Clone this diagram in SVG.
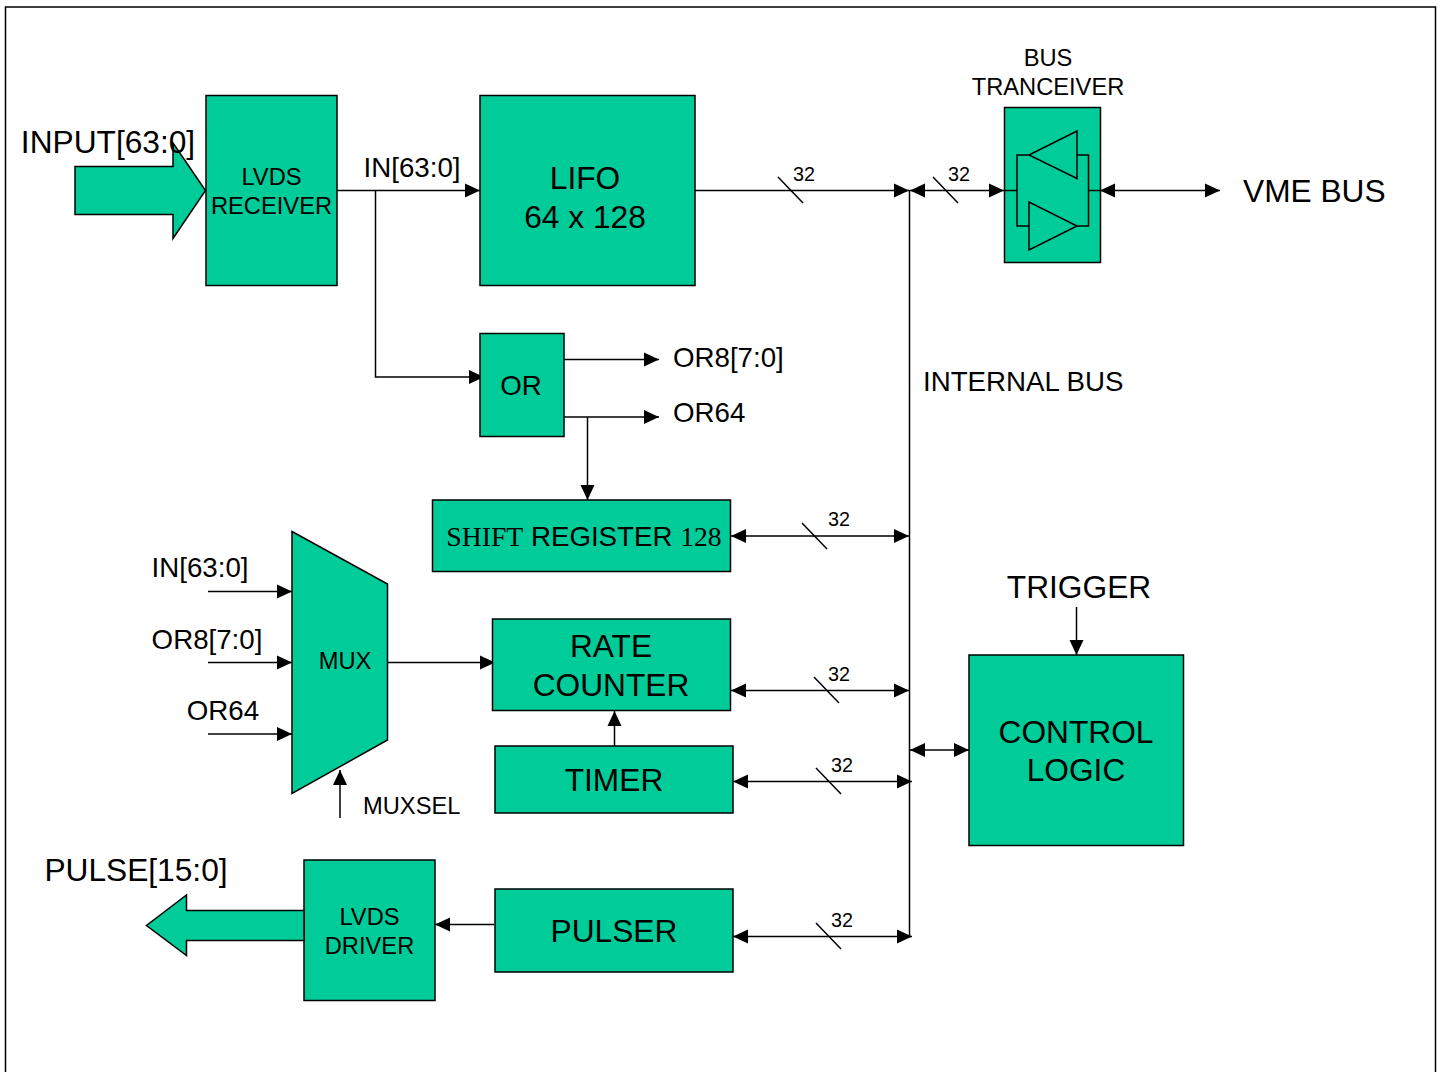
<svg xmlns="http://www.w3.org/2000/svg" width="1444" height="1072" viewBox="0 0 1444 1072">
<style>
text{font-family:"Liberation Sans",Arial,sans-serif;fill:#000;text-anchor:middle}
.b{fill:#00cc99;stroke:#000;stroke-width:1.5}
.c{fill:none;stroke:#000;stroke-width:1.5}
.a{marker-end:url(#e)}
.d{marker-start:url(#s);marker-end:url(#e)}
.l{text-anchor:start}
.s32{font-size:31.7px}.s27{font-size:27.7px}.s24{font-size:23.7px}.s20{font-size:19.8px}
.t{font-family:"Liberation Serif","Times New Roman",serif}
</style>
<defs>
<marker id="e" markerUnits="userSpaceOnUse" markerWidth="16" markerHeight="16" refX="15" refY="8" orient="auto"><path d="M0 1L15 8L0 15Z"/></marker>
<marker id="s" markerUnits="userSpaceOnUse" markerWidth="16" markerHeight="16" refX="1" refY="8" orient="auto"><path d="M16 1L1 8L16 15Z"/></marker>
</defs>
<rect width="1444" height="1072" fill="#fff"/>
<path d="M5.500 1072V7H1435.500V1072" class="c"/>
<g id="connectors">
<path class="c a" d="M337 190.500H480"/>
<path class="c a" d="M375.500 190.500V377H484"/>
<path class="c a" d="M695 190.500H909"/>
<path class="c d" d="M910 190.500H1004"/>
<path class="c d" d="M1100 190.500H1220"/>
<path class="c" d="M909.500 190V937"/>
<path class="c a" d="M564 359.500H659"/>
<path class="c a" d="M564 417H659"/>
<path class="c a" d="M587.500 417V500"/>
<path class="c d" d="M731 536H909"/>
<path class="c d" d="M731 690.500H909"/>
<path class="c d" d="M733 781.500H912"/>
<path class="c d" d="M733 936.500H912"/>
<path class="c d" d="M910 750H969"/>
<path class="c a" d="M1076.500 607V655"/>
<path class="c a" d="M208 591.500H292"/>
<path class="c a" d="M208 662.500H292"/>
<path class="c a" d="M208 734H292"/>
<path class="c a" d="M388 662.500H495"/>
<path class="c a" d="M340 818V770"/>
<path class="c a" d="M614.500 746V711"/>
<path class="c a" d="M494 924.500H435"/>
<path class="c" d="M778 177L803 203M933 177L958 203M802 523L827 549M814 677L839 703M816 768L841 794M816 923L841 949"/>
</g>
<g id="slash-labels" class="s20">
<text x="804" y="181">32</text><text x="959" y="181">32</text><text x="839" y="526">32</text><text x="839" y="681">32</text><text x="842" y="772">32</text><text x="842" y="927">32</text>
</g>
<g id="input-arrow"><path class="b" d="M75 166.500H173V143L205.500 190.500L173 238.500V214.500H75Z"/><text class="s32" x="108" y="153">INPUT[63:0]</text></g>
<g id="lvds-receiver"><rect class="b" x="206" y="95.500" width="131" height="190"/><text class="s24" x="271.500" y="185">LVDS</text><text class="s24" x="271.500" y="214">RECEIVER</text></g>
<text class="s27" x="412" y="177">IN[63:0]</text>
<g id="lifo"><rect class="b" x="480" y="95.500" width="215" height="190"/><text class="s32" x="585" y="189">LIFO</text><text class="s32" x="585" y="227.500">64 x 128</text></g>
<g id="bus-tranceiver"><rect class="b" x="1004.500" y="107.500" width="96" height="155"/>
<path class="c" d="M1004 190.500H1017.500M1089 190.500H1100M1029 155H1017H1017V226H1029M1077 155H1088.500V226H1077M1029 155L1077 131V178.500ZM1029 202V250L1077 226Z"/>
<text class="s24" x="1048" y="66">BUS</text><text class="s24" x="1048" y="95">TRANCEIVER</text></g>
<text class="s32 l" x="1243" y="202">VME BUS</text>
<g id="or"><rect class="b" x="480" y="333.500" width="84" height="103"/><text class="s27" x="521" y="395">OR</text></g>
<text class="s27 l" x="673" y="367">OR8[7:0]</text>
<text class="s27 l" x="673" y="422">OR64</text>
<text class="s27 l" x="923" y="391">INTERNAL BUS</text>
<g id="shift-register"><rect class="b" x="432.500" y="500" width="298" height="71.500"/><text class="s27" x="584" y="546"><tspan class="t">SHIFT</tspan> REGISTER <tspan class="t">128</tspan></text></g>
<g id="mux"><path class="b" d="M292 531.500L387.500 584V740L292 793.500Z"/><text class="s24" x="345" y="669">MUX</text></g>
<text class="s27" x="200" y="577">IN[63:0]</text>
<text class="s27" x="207" y="649">OR8[7:0]</text>
<text class="s27" x="223" y="720">OR64</text>
<text class="s24 l" x="363" y="814">MUXSEL</text>
<g id="rate-counter"><rect class="b" x="492.500" y="619" width="238" height="91.500"/><text class="s32" x="611" y="657">RATE</text><text class="s32" x="611" y="696">COUNTER</text></g>
<g id="timer"><rect class="b" x="495" y="746" width="238" height="67"/><text class="s32" x="614" y="791">TIMER</text></g>
<g id="pulser"><rect class="b" x="495" y="889" width="238" height="83"/><text class="s32" x="614" y="942">PULSER</text></g>
<g id="lvds-driver"><rect class="b" x="304" y="860" width="131" height="140.500"/><text class="s24" x="369.500" y="925">LVDS</text><text class="s24" x="369.500" y="954">DRIVER</text></g>
<g id="pulse-arrow"><path class="b" d="M304 910.500H186.500V895L146.500 925.500L186.500 955.500V940.500H304Z"/><text class="s32" x="136" y="881">PULSE[15:0]</text></g>
<g id="control-logic"><rect class="b" x="969" y="655" width="214.500" height="190.500"/><text class="s32" x="1076" y="742.500">CONTROL</text><text class="s32" x="1076" y="781">LOGIC</text></g>
<text class="s32" x="1079" y="597.500">TRIGGER</text>
</svg>
